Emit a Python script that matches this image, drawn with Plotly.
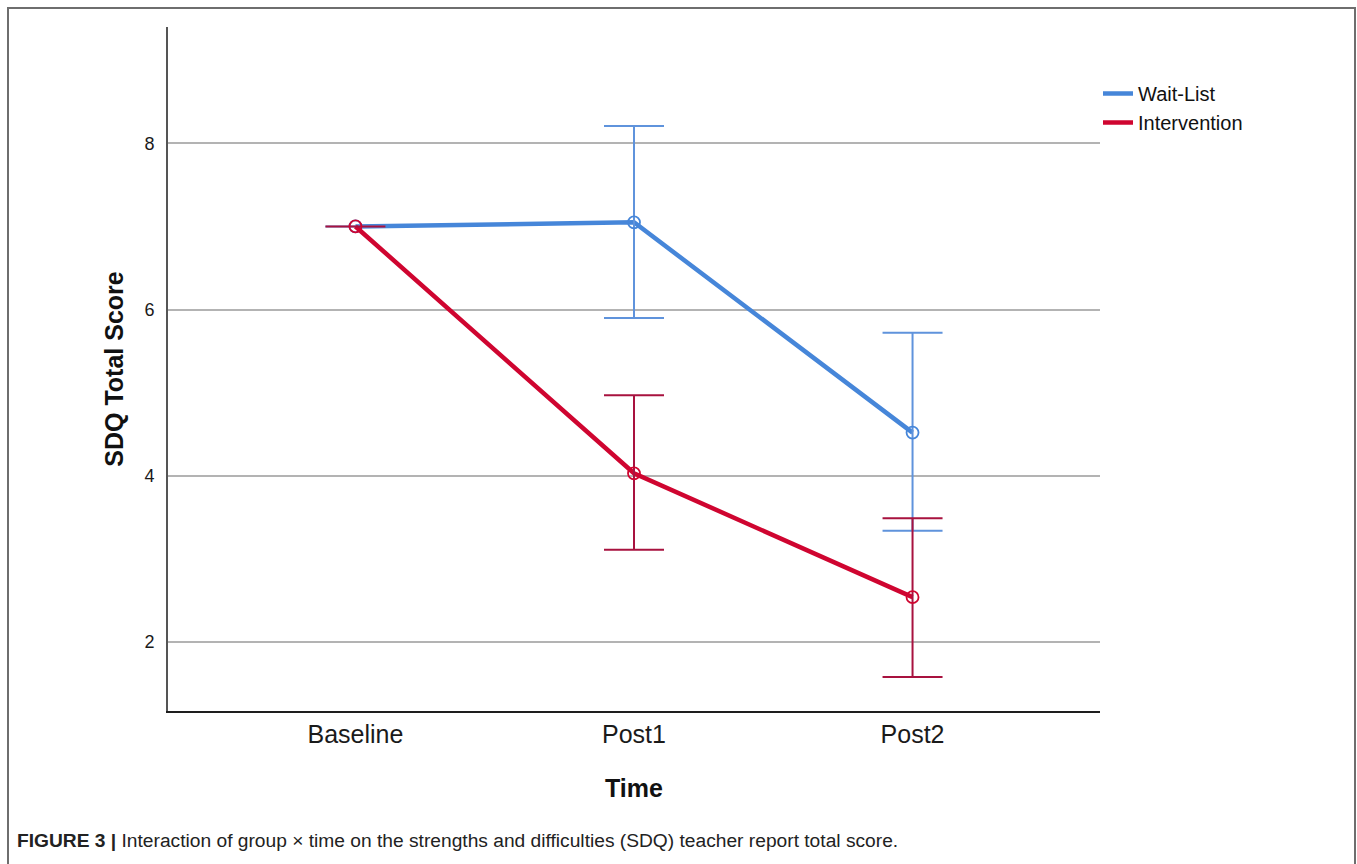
import plotly.graph_objects as go

# Estimated marginal means of SDQ total score by group and time point
time_points = ["Baseline", "Post1", "Post2"]

waitlist_mean = [7.0, 7.05, 4.52]
waitlist_upper = [7.0, 8.21, 5.72]
waitlist_lower = [7.0, 5.90, 3.34]

intervention_mean = [7.0, 4.03, 2.54]
intervention_upper = [7.0, 4.97, 3.49]
intervention_lower = [7.0, 3.11, 1.58]

y_ticks = [2, 4, 6, 8]

# Figure geometry (pixels)
W, H = 1357, 864
M_L, M_R, M_T, M_B = 168, 257, 27, 153
PW, PH = W - M_L - M_R, H - M_T - M_B

BLUE_LINE = "#4686d9"
BLUE_ERR = "#5f93dc"
RED_LINE = "#cf0530"
RED_ERR = "#a8123f"

BASE_FONT = "Liberation Sans, Arial, sans-serif"


def plus(upper, mean):
    return [u - m for u, m in zip(upper, mean)]


def minus(lower, mean):
    return [m - l for l, m in zip(lower, mean)]


fig = go.Figure()

series = [
    ("Wait-List", waitlist_mean, waitlist_upper, waitlist_lower, BLUE_LINE, BLUE_ERR),
    ("Intervention", intervention_mean, intervention_upper, intervention_lower, RED_LINE, RED_ERR),
]

for name, mean, upper, lower, line_col, err_col in series:
    # connecting line (also the legend entry)
    fig.add_trace(go.Scatter(
        x=time_points, y=mean, mode="lines", name=name,
        line=dict(color=line_col, width=4.5),
        showlegend=True,
    ))
    # open-circle means with confidence-interval bars
    fig.add_trace(go.Scatter(
        x=time_points, y=mean, mode="markers", name=name,
        marker=dict(symbol="circle-open", size=12, color=line_col,
                    line=dict(width=1.8, color=line_col)),
        error_y=dict(type="data", symmetric=False,
                     array=plus(upper, mean), arrayminus=minus(lower, mean),
                     color=err_col, thickness=2, width=30),
        showlegend=False,
    ))

# outer frame of the figure panel, expressed in paper units
fx0 = (8 - M_L) / PW
fx1 = (1355 - M_L) / PW
fy1 = (H - M_B - 8) / PH
fy0 = (H - M_B - 880) / PH
fig.add_shape(type="rect", xref="paper", yref="paper",
              x0=fx0, x1=fx1, y0=fy0, y1=fy1,
              line=dict(color="#6e6e6e", width=2), fillcolor="rgba(0,0,0,0)",
              layer="below")

# caption
cap_x = (15 - M_L) / PW
cap_y = (H - M_B - 840) / PH
fig.add_annotation(
    xref="paper", yref="paper", x=cap_x, y=cap_y,
    xanchor="left", yanchor="middle", showarrow=False,
    text="<b>FIGURE 3 |</b> Interaction of group \u00d7 time on the strengths and "
         "difficulties (SDQ) teacher report total score.",
    font=dict(family="Liberation Sans Narrow, Arial Narrow, Liberation Sans, sans-serif",
              size=19.2, color="#222222"),
)

fig.update_layout(
    width=W, height=H,
    margin=dict(l=M_L, r=M_R, t=M_T, b=M_B, pad=0),
    paper_bgcolor="white", plot_bgcolor="white",
    font=dict(family=BASE_FONT, color="#111111"),
    showlegend=True,
    legend=dict(
        x=(1098 - M_L) / PW, y=(H - M_B - 74) / PH,
        xanchor="left", yanchor="top",
        font=dict(size=20, family=BASE_FONT, color="#111111"),
        bgcolor="rgba(0,0,0,0)", tracegroupgap=0, itemwidth=30,
    ),
    xaxis=dict(
        type="category", range=[-0.673, 2.673],
        showline=True, linecolor="#1e1e1e", linewidth=2,
        showgrid=False, zeroline=False, ticks="",
        tickfont=dict(size=25, family=BASE_FONT, color="#1a1a1a"),
        title=dict(text="<b>Time</b>", font=dict(size=25, family=BASE_FONT, color="#111111"),
                   standoff=32),
        fixedrange=True,
    ),
    yaxis=dict(
        range=[1.17, 9.40], tickvals=y_ticks,
        showline=True, linecolor="#555555", linewidth=2,
        showgrid=True, gridcolor="#b3b3b3", gridwidth=1.5,
        zeroline=False, ticks="",
        ticklabelstandoff=8,
        tickfont=dict(size=18, family=BASE_FONT, color="#1a1a1a"),
        title=dict(text="<b>SDQ Total Score</b>",
                   font=dict(size=25, family=BASE_FONT, color="#111111"),
                   standoff=14),
        fixedrange=True,
    ),
)

fig.write_html("out.html")
